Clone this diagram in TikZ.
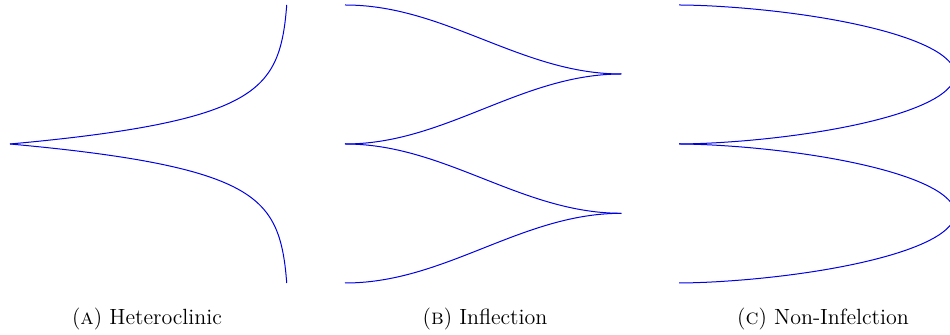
\documentclass[tikz,border=0pt]{standalone}
\begin{document}
\begin{tikzpicture}[x=0.5pt,y=-0.5pt,
  curve/.style={blue!90!black,line width=0.5pt,line join=round},
  captext/.style={anchor=base,inner sep=0pt,font=\fontsize{11}{13}\selectfont}]
\useasboundingbox (0,0) rectangle (950,335);
% Panel A: heteroclinic
\draw[curve] plot[domain=0:139,samples=150] ({10+279.5*(1-exp(-(0.0395-0.00004*\x)*\x))},{144-\x});
\draw[curve] plot[domain=0:139,samples=150] ({10+279.5*(1-exp(-(0.0395-0.00004*\x)*\x))},{144+\x});
% Panel B: inflection
\draw[curve] plot[domain=0:1,samples=80] ({345+276.5*\x},{5+69*(1-cos(180*\x))/2});
\draw[curve] plot[domain=0:1,samples=80] ({345+276.5*\x},{144-70*(1-cos(180*\x))/2});
\draw[curve] plot[domain=0:1,samples=80] ({345+276.5*\x},{144+69.3*(1-cos(180*\x))/2});
\draw[curve] plot[domain=0:1,samples=80] ({345+276.5*\x},{283-69.7*(1-cos(180*\x))/2});
% Panel C: non-inflection
\draw[curve] plot[domain=-90:90,samples=181] ({679+276*max(cos(\x),0.0001)^1.2},{74.5+69.5*sin(\x)});
\draw[curve] plot[domain=-90:90,samples=181] ({679+276*max(cos(\x),0.0001)^1.2},{213.5+69.5*sin(\x)});
% Captions
\node[captext] (ca) at (147,325) {(\textsc{a}) Heteroclinic};
\node[captext] (cb) at (485,325) {(\textsc{b}) Inflection};
\node[captext] (cc) at (823,325) {(\textsc{c}) Non-Infelction};
\end{tikzpicture}
\end{document}
